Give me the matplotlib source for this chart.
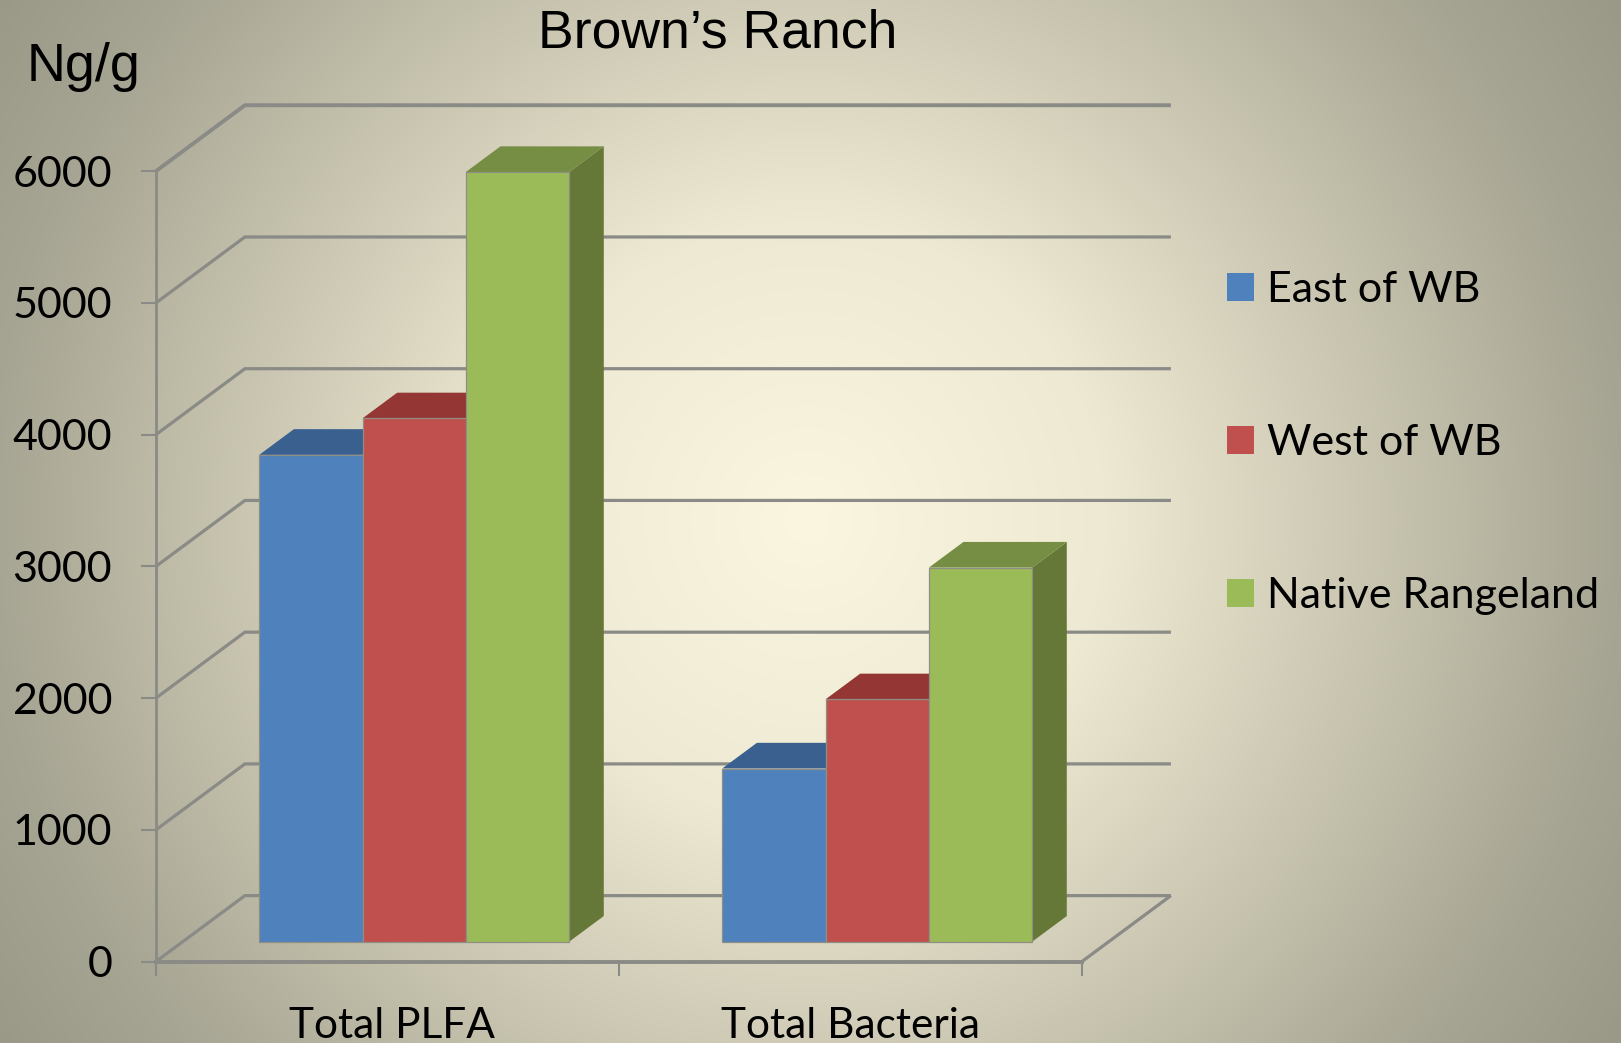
#!/usr/bin/python
import numpy as np
import matplotlib
matplotlib.use('Agg')
import matplotlib.pyplot as plt
from matplotlib.patches import Patch

# Bar values in ng/g
groups = ['Total PLFA', 'Total Bacteria']
series = ['East of WB', 'West of WB', 'Native Rangeland']
east = [3696, 1315]
west = [3973, 1840]
native = [5843, 2840]
yticks = [0, 1000, 2000, 3000, 4000, 5000, 6000]

front = ['#4F81BD', '#C0504D', '#9BBB59']
top = ['#3A6090', '#943634', '#768E44']
side = ['#33547E', '#7F2F2D', '#657837']
line_col = '#8A8A86'
edge_col = '#8E8E84'

# Depth of the fake 3D box, x in category units and y in data units
depth_x = 0.192
depth_y = 500
bar_w = 0.2231
bar_near = 0.30
bar_far = 0.69

W, H = 1621, 1043
fig = plt.figure(figsize=(W / 100, H / 100), dpi=100)

# Radial backdrop, light in the middle and darker out to the corners
bg = fig.add_axes([0, 0, 1, 1], zorder=-1)
xx, yy = np.meshgrid(np.arange(W), np.arange(H))
r = np.hypot(xx - 806, yy - 520)
stops_r = [0, 300, 520, 815, 960]
stops_c = np.array([[251, 246, 224], [238, 233, 210], [207, 203, 182],
                    [166, 164, 146], [154, 152, 134]]) / 255
img = np.dstack([np.interp(r, stops_r, stops_c[:, i]) for i in range(3)])
bg.imshow(img, aspect='auto', interpolation='bilinear')
bg.axis('off')

ax = fig.add_axes([156 / W, (H - 961.5) / H, 926 / W, 790.4 / H])
ax.patch.set_alpha(0)
ax.set_xlim(0, 2)
ax.set_ylim(0, 6000)

# Back wall gridlines with their diagonals to the front axis
for v in yticks:
    lw = 2.8 if v == 6000 else 2.3
    ax.plot([0, depth_x, 2 + depth_x], [v, v + depth_y, v + depth_y], color=line_col,
            lw=lw, clip_on=False, zorder=1, solid_joinstyle='miter', solid_capstyle='butt')
ax.plot([2, 2 + depth_x], [0, depth_y], color=line_col, lw=2.3, clip_on=False, zorder=1,
        solid_capstyle='butt')

# Bars: front face from ax.bar, then top and side faces as polygons
base = bar_near * depth_y
dx0 = bar_near * depth_x
dx = (bar_far - bar_near) * depth_x
dy = (bar_far - bar_near) * depth_y
for i, vals in enumerate([east, west, native]):
    for g, v in enumerate(vals):
        x0 = g + 0.5 + dx0 + (i - 1.5) * bar_w
        x1 = x0 + bar_w
        z = 3 + i
        ax.fill([x1, x1 + dx, x1 + dx, x1], [base, base + dy, base + v + dy, base + v],
                color=side[i], lw=0, clip_on=False, zorder=z)
        ax.fill([x0, x1, x1 + dx, x0 + dx], [base + v, base + v, base + v + dy, base + v + dy],
                color=top[i], lw=0, clip_on=False, zorder=z)
        ax.bar(x0, v, bar_w, bottom=base, align='edge', color=front[i], edgecolor=edge_col,
               linewidth=0.9, clip_on=False, zorder=z + 0.5)

# Axes
for name in ['top', 'right']:
    ax.spines[name].set_visible(False)
ax.spines['left'].set_color(line_col)
ax.spines['left'].set_linewidth(2.0)
ax.spines['bottom'].set_color(line_col)
ax.spines['bottom'].set_linewidth(2.8)
ax.spines['left'].set_zorder(2)
ax.spines['bottom'].set_zorder(2)

ax.set_yticks(yticks)
ax.set_yticklabels([str(v) for v in yticks], family='Lato', fontsize=31)
ax.tick_params(axis='y', length=10.5, width=1.5, color=line_col, pad=21)
ax.set_xticks([0, 1, 2])
ax.set_xticklabels([])
ax.tick_params(axis='x', which='major', length=10, width=1.5, color=line_col)
ax.set_xticks([0.51, 1.5], minor=True)
ax.set_xticklabels(groups, minor=True, family='Lato', fontsize=30.5)
ax.tick_params(axis='x', which='minor', length=0, pad=32.5)

fig.text(717.5 / W, 1 - 33 / H, 'Brown\u2019s Ranch', family='Liberation Sans', fontsize=38.5,
         ha='center', va='center')
fig.text(27 / W, 1 - 67 / H, 'Ng/g', family='Liberation Sans', fontsize=38.8, ha='left', va='center')

handles = [Patch(facecolor=c, edgecolor='none') for c in front]
ax.legend(handles, series, loc='upper left', bbox_to_anchor=(1227 / W, 1 - 271 / H),
          bbox_transform=fig.transFigure, frameon=False, borderpad=0, borderaxespad=0,
          prop={'family': 'Lato', 'size': 31}, handlelength=0.63, handleheight=0.63,
          handletextpad=0.3, labelspacing=2.67)

fig.savefig('out.png', dpi=100)
